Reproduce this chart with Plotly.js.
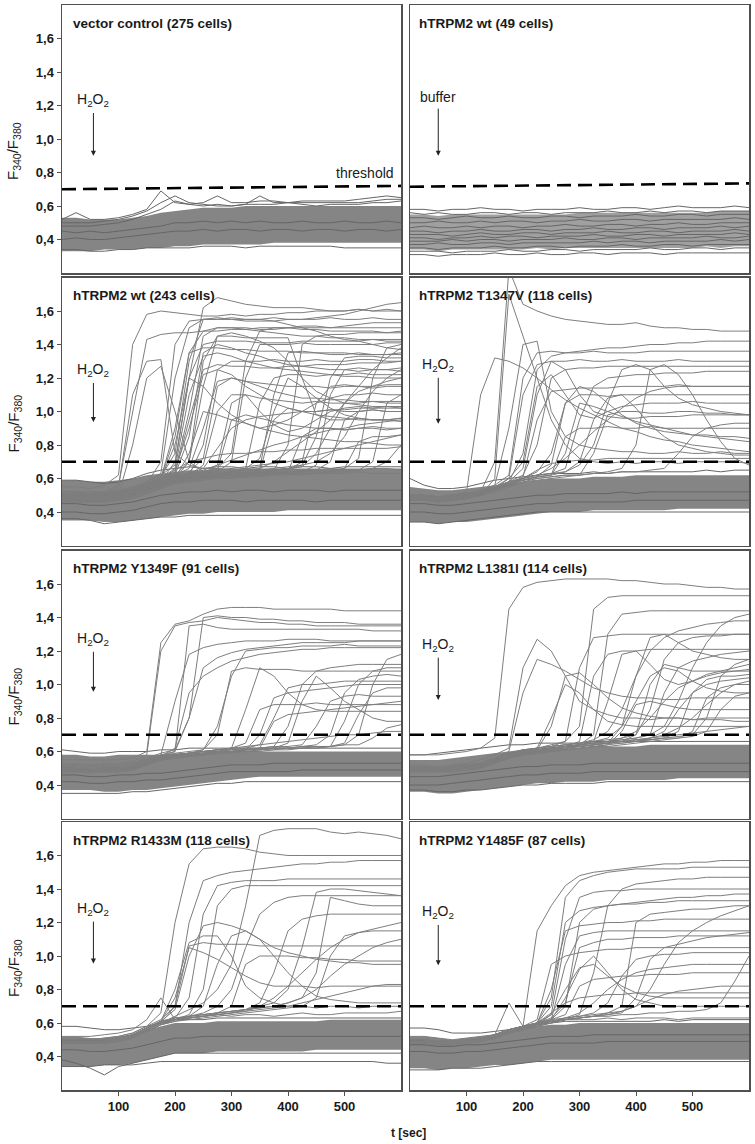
<!DOCTYPE html>
<html>
<head>
<meta charset="utf-8">
<script src="https://cdn.plot.ly/plotly-3.0.1.min.js"></script>
<style>html,body{margin:0;padding:0;background:#fff;}#chart{width:755px;height:1144px;}</style>
</head>
<body>
<div id="chart"></div>
<script>
// ---------- DATA ----------
const T = [0,25,50,75,100,125,150,175,200,225,250,275,300,325,350,375,400,425,450,475,500,525,550,575,600];
const xTicks = [100,200,300,400,500];
const yTicks = [0.4,0.6,0.8,1.0,1.2,1.4,1.6];
const panelTitles = ["vector control (275 cells)","hTRPM2 wt (49 cells)","hTRPM2 wt (243 cells)","hTRPM2 T1347V (118 cells)","hTRPM2 Y1349F (91 cells)","hTRPM2 L1381I (114 cells)","hTRPM2 R1433M (118 cells)","hTRPM2 Y1485F (87 cells)"];
const stimulusLabels = ["H<sub>2</sub>O<sub>2</sub>","buffer","H<sub>2</sub>O<sub>2</sub>","H<sub>2</sub>O<sub>2</sub>","H<sub>2</sub>O<sub>2</sub>","H<sub>2</sub>O<sub>2</sub>","H<sub>2</sub>O<sub>2</sub>","H<sub>2</sub>O<sub>2</sub>"];
const thresholdStart = [0.70,0.715,0.70,0.70,0.70,0.70,0.70,0.70];
const thresholdEnd   = [0.72,0.735,0.70,0.70,0.70,0.70,0.70,0.70];

// dense baseline bands (lower / upper envelope of the bulk of non-responding cells)
const bandLo1 = [0.33,0.33,0.33,0.34,0.34,0.34,0.35,0.35,0.36,0.36,0.37,0.37,0.37,0.37,0.37,0.38,0.38,0.38,0.38,0.38,0.38,0.38,0.38,0.38,0.38];
const bandHi1 = [0.53,0.53,0.52,0.52,0.52,0.53,0.54,0.56,0.57,0.58,0.59,0.59,0.59,0.60,0.60,0.60,0.60,0.60,0.60,0.60,0.60,0.60,0.60,0.60,0.60];
const bandLo2 = [0.34,0.34,0.33,0.34,0.34,0.34,0.34,0.34,0.34,0.35,0.34,0.35,0.35,0.35,0.35,0.35,0.35,0.35,0.35,0.35,0.35,0.36,0.35,0.36,0.36];
const bandHi2 = [0.55,0.55,0.54,0.55,0.55,0.55,0.55,0.55,0.55,0.55,0.55,0.55,0.56,0.56,0.56,0.56,0.56,0.56,0.56,0.56,0.56,0.56,0.57,0.57,0.57];
const bandLo3 = [0.35,0.35,0.35,0.34,0.34,0.35,0.36,0.37,0.38,0.39,0.39,0.40,0.40,0.40,0.40,0.40,0.41,0.41,0.41,0.41,0.41,0.41,0.41,0.41,0.41];
const bandHi3 = [0.59,0.59,0.58,0.58,0.59,0.60,0.62,0.63,0.64,0.65,0.65,0.66,0.66,0.66,0.66,0.66,0.66,0.66,0.66,0.66,0.66,0.66,0.66,0.66,0.66];
const bandLo4 = [0.34,0.34,0.33,0.34,0.34,0.35,0.36,0.37,0.38,0.39,0.40,0.40,0.40,0.41,0.41,0.41,0.41,0.41,0.41,0.42,0.42,0.42,0.42,0.42,0.42];
const bandHi4 = [0.55,0.54,0.53,0.53,0.54,0.55,0.56,0.57,0.58,0.59,0.60,0.60,0.60,0.61,0.61,0.61,0.62,0.62,0.62,0.62,0.62,0.62,0.62,0.62,0.62];
const bandLo5 = [0.37,0.37,0.37,0.36,0.36,0.37,0.37,0.38,0.39,0.40,0.41,0.42,0.43,0.44,0.45,0.45,0.45,0.45,0.45,0.45,0.45,0.45,0.45,0.45,0.45];
const bandHi5 = [0.58,0.58,0.57,0.57,0.58,0.58,0.58,0.58,0.59,0.59,0.59,0.60,0.60,0.60,0.60,0.60,0.60,0.60,0.60,0.60,0.60,0.60,0.60,0.60,0.60];
const bandLo6 = [0.36,0.36,0.35,0.35,0.36,0.37,0.38,0.39,0.40,0.41,0.41,0.42,0.42,0.42,0.43,0.43,0.43,0.43,0.43,0.44,0.44,0.44,0.44,0.44,0.44];
const bandHi6 = [0.55,0.55,0.55,0.56,0.57,0.58,0.59,0.60,0.61,0.61,0.62,0.62,0.62,0.63,0.63,0.63,0.63,0.64,0.64,0.64,0.64,0.64,0.64,0.64,0.64];
const bandLo7 = [0.34,0.34,0.34,0.35,0.35,0.36,0.38,0.40,0.42,0.42,0.42,0.43,0.43,0.43,0.43,0.43,0.43,0.43,0.44,0.44,0.44,0.44,0.44,0.44,0.44];
const bandHi7 = [0.52,0.52,0.51,0.51,0.52,0.53,0.56,0.58,0.60,0.60,0.60,0.61,0.61,0.61,0.61,0.61,0.61,0.61,0.61,0.62,0.62,0.62,0.62,0.62,0.62];
const bandLo8 = [0.33,0.33,0.32,0.33,0.33,0.34,0.35,0.35,0.36,0.37,0.38,0.38,0.38,0.38,0.38,0.38,0.38,0.38,0.38,0.38,0.38,0.38,0.38,0.38,0.38];
const bandHi8 = [0.52,0.52,0.51,0.50,0.51,0.52,0.53,0.55,0.57,0.58,0.59,0.59,0.60,0.60,0.60,0.60,0.60,0.60,0.60,0.60,0.60,0.60,0.60,0.60,0.60];

// individual non-responding cells
const base1 = [
 [0.52,0.56,0.52,0.52,0.53,0.55,0.58,0.69,0.62,0.61,0.62,0.66,0.62,0.62,0.63,0.63,0.62,0.63,0.63,0.63,0.63,0.64,0.65,0.66,0.65],
 [0.50,0.50,0.50,0.51,0.52,0.54,0.57,0.62,0.66,0.62,0.61,0.60,0.60,0.61,0.66,0.62,0.62,0.62,0.62,0.62,0.62,0.62,0.63,0.64,0.64],
 [0.48,0.48,0.48,0.49,0.50,0.52,0.55,0.58,0.63,0.61,0.60,0.61,0.60,0.61,0.61,0.61,0.62,0.61,0.60,0.61,0.61,0.61,0.62,0.62,0.63],
 [0.34,0.34,0.33,0.33,0.34,0.34,0.35,0.35,0.35,0.35,0.36,0.36,0.36,0.35,0.36,0.36,0.36,0.36,0.36,0.36,0.35,0.35,0.35,0.35,0.35],
 [0.45,0.44,0.45,0.44,0.45,0.46,0.47,0.48,0.50,0.50,0.51,0.50,0.51,0.50,0.51,0.50,0.50,0.51,0.50,0.50,0.51,0.50,0.50,0.51,0.50],
 [0.40,0.41,0.40,0.40,0.41,0.42,0.43,0.44,0.45,0.45,0.46,0.45,0.46,0.46,0.45,0.46,0.46,0.45,0.46,0.46,0.45,0.46,0.46,0.45,0.46]
];
const base2 = [
 [0.58,0.58,0.57,0.58,0.58,0.59,0.58,0.58,0.57,0.58,0.58,0.58,0.59,0.58,0.58,0.59,0.59,0.58,0.59,0.60,0.59,0.59,0.59,0.60,0.59],
 [0.56,0.55,0.56,0.55,0.55,0.56,0.56,0.55,0.56,0.56,0.55,0.56,0.56,0.56,0.57,0.56,0.56,0.57,0.56,0.57,0.57,0.56,0.57,0.57,0.57],
 [0.53,0.53,0.52,0.53,0.54,0.53,0.53,0.54,0.53,0.53,0.54,0.54,0.53,0.54,0.54,0.54,0.55,0.54,0.54,0.55,0.55,0.54,0.55,0.55,0.55],
 [0.50,0.50,0.51,0.50,0.50,0.51,0.50,0.51,0.51,0.50,0.51,0.51,0.52,0.51,0.51,0.52,0.52,0.51,0.52,0.52,0.52,0.52,0.52,0.53,0.52],
 [0.47,0.48,0.47,0.47,0.48,0.47,0.48,0.48,0.47,0.48,0.48,0.49,0.48,0.48,0.49,0.49,0.48,0.49,0.49,0.50,0.49,0.49,0.50,0.50,0.50],
 [0.45,0.45,0.44,0.45,0.45,0.46,0.45,0.45,0.46,0.46,0.45,0.46,0.46,0.47,0.46,0.46,0.47,0.47,0.46,0.47,0.47,0.47,0.48,0.47,0.48],
 [0.43,0.43,0.43,0.42,0.43,0.44,0.43,0.43,0.44,0.44,0.43,0.44,0.44,0.44,0.45,0.44,0.44,0.45,0.45,0.44,0.45,0.45,0.45,0.46,0.45],
 [0.41,0.41,0.40,0.41,0.41,0.42,0.41,0.42,0.42,0.41,0.42,0.42,0.42,0.43,0.42,0.42,0.43,0.43,0.42,0.43,0.43,0.43,0.43,0.44,0.43],
 [0.39,0.39,0.39,0.40,0.39,0.40,0.40,0.39,0.40,0.40,0.40,0.41,0.40,0.40,0.41,0.41,0.40,0.41,0.41,0.41,0.41,0.42,0.41,0.41,0.42],
 [0.37,0.37,0.38,0.37,0.37,0.38,0.38,0.37,0.38,0.38,0.38,0.38,0.38,0.39,0.38,0.39,0.39,0.38,0.39,0.39,0.39,0.39,0.40,0.39,0.40],
 [0.35,0.35,0.34,0.35,0.35,0.35,0.36,0.35,0.35,0.36,0.36,0.35,0.36,0.36,0.36,0.37,0.36,0.36,0.37,0.37,0.36,0.37,0.37,0.37,0.37],
 [0.33,0.33,0.33,0.32,0.33,0.33,0.33,0.34,0.33,0.33,0.34,0.34,0.33,0.34,0.34,0.34,0.34,0.35,0.34,0.34,0.35,0.35,0.34,0.35,0.35],
 [0.31,0.31,0.30,0.31,0.31,0.31,0.32,0.31,0.31,0.32,0.31,0.31,0.32,0.32,0.31,0.32,0.32,0.32,0.31,0.32,0.32,0.32,0.32,0.32,0.32]
];
const base3 = [
 [0.36,0.36,0.35,0.33,0.34,0.35,0.36,0.37,0.37,0.38,0.38,0.38,0.38,0.38,0.38,0.38,0.38,0.38,0.38,0.38,0.38,0.38,0.38,0.38,0.38],
 [0.59,0.59,0.58,0.57,0.58,0.60,0.63,0.65,0.66,0.67,0.66,0.67,0.67,0.66,0.67,0.67,0.66,0.67,0.67,0.66,0.67,0.67,0.67,0.67,0.67],
 [0.45,0.45,0.44,0.44,0.45,0.46,0.48,0.50,0.51,0.52,0.52,0.53,0.52,0.53,0.53,0.52,0.53,0.53,0.53,0.52,0.53,0.53,0.53,0.53,0.53],
 [0.40,0.40,0.39,0.39,0.40,0.41,0.43,0.45,0.46,0.46,0.47,0.47,0.47,0.46,0.47,0.47,0.47,0.47,0.46,0.47,0.47,0.47,0.47,0.47,0.47]
];
const base4 = [
 [0.60,0.56,0.54,0.54,0.55,0.57,0.59,0.60,0.61,0.62,0.63,0.63,0.63,0.64,0.63,0.64,0.64,0.64,0.64,0.64,0.64,0.65,0.64,0.65,0.65],
 [0.34,0.34,0.33,0.34,0.35,0.36,0.37,0.38,0.39,0.40,0.40,0.40,0.40,0.40,0.40,0.40,0.40,0.40,0.40,0.40,0.40,0.40,0.40,0.40,0.40],
 [0.45,0.45,0.44,0.44,0.45,0.46,0.47,0.48,0.49,0.50,0.50,0.51,0.51,0.51,0.51,0.52,0.51,0.52,0.52,0.52,0.52,0.52,0.52,0.52,0.52],
 [0.40,0.40,0.39,0.39,0.40,0.41,0.42,0.43,0.44,0.45,0.45,0.46,0.46,0.46,0.46,0.46,0.47,0.47,0.47,0.47,0.47,0.47,0.47,0.47,0.47]
];
const base5 = [
 [0.35,0.35,0.35,0.35,0.35,0.36,0.36,0.37,0.38,0.39,0.40,0.41,0.41,0.42,0.42,0.42,0.42,0.42,0.42,0.42,0.42,0.42,0.42,0.42,0.42],
 [0.61,0.60,0.59,0.59,0.60,0.60,0.60,0.61,0.61,0.62,0.62,0.62,0.62,0.62,0.62,0.62,0.62,0.62,0.62,0.62,0.62,0.62,0.62,0.62,0.62],
 [0.46,0.46,0.45,0.45,0.46,0.46,0.47,0.47,0.48,0.49,0.50,0.51,0.52,0.52,0.52,0.53,0.53,0.53,0.53,0.53,0.53,0.53,0.53,0.53,0.53],
 [0.42,0.42,0.41,0.41,0.42,0.42,0.43,0.43,0.44,0.45,0.46,0.47,0.48,0.48,0.48,0.48,0.48,0.49,0.49,0.49,0.49,0.49,0.49,0.49,0.49]
];
const base6 = [
 [0.37,0.37,0.36,0.36,0.37,0.37,0.38,0.39,0.40,0.40,0.41,0.41,0.41,0.41,0.42,0.42,0.42,0.42,0.42,0.42,0.42,0.42,0.42,0.42,0.42],
 [0.58,0.58,0.59,0.60,0.61,0.62,0.63,0.64,0.64,0.65,0.65,0.65,0.65,0.66,0.66,0.66,0.66,0.66,0.66,0.66,0.66,0.66,0.66,0.66,0.66],
 [0.45,0.45,0.45,0.46,0.47,0.48,0.49,0.50,0.51,0.51,0.52,0.52,0.52,0.53,0.53,0.53,0.53,0.53,0.53,0.53,0.53,0.53,0.53,0.53,0.53],
 [0.40,0.40,0.40,0.41,0.42,0.43,0.44,0.45,0.46,0.46,0.47,0.47,0.47,0.48,0.48,0.48,0.48,0.48,0.48,0.48,0.48,0.48,0.48,0.48,0.48]
];
const base7 = [
 [0.58,0.58,0.57,0.56,0.56,0.57,0.58,0.60,0.62,0.62,0.62,0.63,0.63,0.63,0.63,0.63,0.63,0.63,0.63,0.63,0.63,0.63,0.63,0.63,0.63],
 [0.38,0.36,0.33,0.29,0.34,0.36,0.38,0.40,0.42,0.42,0.42,0.42,0.42,0.42,0.42,0.42,0.42,0.42,0.42,0.42,0.42,0.42,0.42,0.42,0.42],
 [0.34,0.34,0.34,0.35,0.35,0.35,0.36,0.37,0.37,0.37,0.37,0.37,0.37,0.37,0.37,0.37,0.37,0.37,0.37,0.37,0.37,0.37,0.37,0.36,0.36],
 [0.44,0.44,0.43,0.43,0.44,0.45,0.47,0.49,0.51,0.51,0.52,0.52,0.52,0.52,0.52,0.52,0.52,0.52,0.52,0.52,0.52,0.52,0.52,0.52,0.52]
];
const base8 = [
 [0.57,0.57,0.56,0.54,0.54,0.54,0.55,0.56,0.58,0.59,0.60,0.61,0.61,0.61,0.61,0.61,0.61,0.61,0.62,0.61,0.62,0.62,0.62,0.62,0.62],
 [0.32,0.32,0.32,0.33,0.33,0.33,0.34,0.35,0.36,0.37,0.37,0.37,0.37,0.37,0.37,0.37,0.37,0.37,0.37,0.37,0.37,0.37,0.37,0.37,0.37],
 [0.43,0.43,0.42,0.42,0.43,0.43,0.44,0.45,0.46,0.47,0.48,0.48,0.48,0.48,0.49,0.49,0.49,0.49,0.49,0.49,0.49,0.49,0.49,0.49,0.49],
 [0.47,0.47,0.46,0.46,0.47,0.47,0.48,0.49,0.50,0.51,0.52,0.52,0.52,0.53,0.53,0.53,0.53,0.53,0.53,0.53,0.53,0.53,0.53,0.53,0.53]
];

// responding cells
const resp3 = [
 [0.55,0.55,0.54,0.56,0.62,1.40,1.58,1.60,1.59,1.58,1.57,1.57,1.58,1.57,1.58,1.58,1.59,1.59,1.60,1.60,1.60,1.61,1.60,1.61,1.60],
 [0.52,0.52,0.51,0.52,0.56,1.00,1.43,1.46,1.47,1.47,1.48,1.48,1.49,1.49,1.50,1.50,1.50,1.51,1.51,1.50,1.50,1.50,1.50,1.50,1.50],
 [0.50,0.50,0.50,0.51,0.55,1.10,1.30,1.31,0.75,0.68,0.66,0.66,0.65,0.66,0.65,0.65,0.66,0.65,0.65,0.66,0.65,0.65,0.66,0.66,0.65],
 [0.48,0.48,0.48,0.49,0.50,0.80,1.20,1.27,1.00,0.70,0.64,0.63,0.63,0.62,0.63,0.63,0.63,0.62,0.63,0.63,0.63,0.64,0.63,0.63,0.63],
 [0.50,0.50,0.50,0.50,0.52,0.54,0.58,0.62,0.68,1.20,1.62,1.68,1.66,1.64,1.63,1.62,1.62,1.62,1.61,1.60,1.60,1.61,1.60,1.60,1.60],
 [0.52,0.52,0.51,0.52,0.53,0.55,0.58,0.63,1.20,1.50,1.55,1.55,1.55,1.54,1.54,1.54,1.55,1.55,1.56,1.57,1.58,1.60,1.62,1.64,1.65],
 [0.50,0.50,0.49,0.50,0.50,0.52,0.55,0.60,0.90,1.35,1.48,1.50,1.50,1.50,1.49,1.49,1.50,1.50,1.50,1.50,1.51,1.52,1.53,1.53,1.53],
 [0.47,0.47,0.46,0.47,0.48,0.50,0.54,0.58,0.70,1.20,1.40,1.42,1.42,1.42,1.41,1.41,1.41,1.42,1.42,1.42,1.42,1.42,1.43,1.43,1.43],
 [0.48,0.48,0.48,0.48,0.50,0.52,0.55,0.60,0.66,1.10,1.33,1.35,1.33,1.30,1.28,1.26,1.25,1.24,1.23,1.22,1.21,1.21,1.20,1.20,1.20],
 [0.50,0.50,0.50,0.50,0.51,0.53,0.56,0.60,0.65,0.90,1.22,1.25,1.22,1.15,1.10,1.05,1.02,1.00,1.00,1.01,1.00,1.00,1.01,1.00,1.00],
 [0.50,0.50,0.50,0.51,0.52,0.53,0.56,0.60,0.62,0.70,1.30,1.45,1.45,1.44,1.44,1.44,1.44,1.20,0.98,0.95,0.95,0.96,0.95,0.95,0.96],
 [0.46,0.46,0.46,0.46,0.47,0.49,0.52,0.55,0.58,0.62,0.80,1.25,1.30,1.30,1.30,1.31,1.30,1.30,1.31,1.30,1.30,1.31,1.31,1.30,1.30],
 [0.49,0.49,0.48,0.49,0.50,0.51,0.54,0.58,0.60,0.62,0.68,1.00,1.10,1.10,1.08,1.07,1.06,1.05,1.06,1.05,1.05,1.05,1.06,1.05,1.05],
 [0.47,0.47,0.47,0.47,0.48,0.50,0.53,0.56,0.59,0.60,0.62,0.64,0.70,1.20,1.40,1.40,1.40,1.41,1.40,1.40,1.40,1.40,1.40,1.41,1.41],
 [0.51,0.51,0.50,0.51,0.52,0.53,0.56,0.59,0.61,0.62,0.63,0.65,0.95,0.98,0.96,0.94,0.92,0.91,0.90,0.90,0.89,0.90,0.90,0.89,0.90],
 [0.46,0.46,0.46,0.46,0.47,0.48,0.51,0.54,0.57,0.59,0.60,0.61,0.62,0.66,1.05,1.20,1.22,1.22,1.21,1.22,1.22,1.23,1.22,1.22,1.22],
 [0.49,0.49,0.49,0.49,0.50,0.51,0.54,0.57,0.59,0.60,0.61,0.62,0.62,0.63,0.64,0.95,1.02,1.00,0.98,0.97,0.96,0.95,0.95,0.95,0.96],
 [0.50,0.50,0.49,0.50,0.51,0.52,0.55,0.58,0.60,0.61,0.62,0.62,0.63,0.64,0.66,1.10,1.35,1.36,1.35,1.34,1.34,1.35,1.34,1.34,1.35],
 [0.48,0.48,0.48,0.48,0.49,0.50,0.53,0.56,0.58,0.60,0.61,0.61,0.62,0.63,0.63,0.65,0.80,1.40,1.45,1.46,1.46,1.47,1.47,1.47,1.48],
 [0.47,0.47,0.47,0.47,0.48,0.50,0.52,0.55,0.58,0.59,0.60,0.61,0.61,0.62,0.62,0.63,0.64,0.85,0.90,0.90,0.89,0.90,0.91,0.90,0.90],
 [0.50,0.50,0.50,0.50,0.51,0.52,0.55,0.58,0.60,0.61,0.62,0.62,0.63,0.63,0.64,0.64,0.65,0.70,1.05,1.15,1.16,1.15,1.15,1.16,1.16],
 [0.48,0.48,0.47,0.48,0.49,0.50,0.53,0.56,0.58,0.59,0.60,0.61,0.61,0.62,0.62,0.63,0.63,0.64,0.68,1.10,1.25,1.26,1.25,1.25,1.26],
 [0.49,0.49,0.49,0.49,0.50,0.51,0.54,0.57,0.59,0.60,0.61,0.61,0.62,0.62,0.63,0.63,0.64,0.64,0.65,0.70,0.95,1.00,1.01,1.00,1.00],
 [0.46,0.46,0.46,0.46,0.47,0.48,0.51,0.54,0.57,0.58,0.59,0.60,0.60,0.61,0.61,0.62,0.62,0.63,0.63,0.64,0.66,0.82,0.85,0.85,0.86],
 [0.50,0.50,0.50,0.50,0.51,0.52,0.55,0.58,0.60,0.61,0.62,0.62,0.63,0.63,0.64,0.64,0.64,0.65,0.65,0.65,0.66,0.72,1.20,1.38,1.40],
 [0.47,0.47,0.47,0.47,0.48,0.49,0.52,0.55,0.58,0.59,0.60,0.60,0.61,0.61,0.62,0.62,0.63,0.63,0.63,0.64,0.64,0.65,0.70,1.05,1.10],
 [0.49,0.49,0.49,0.49,0.50,0.51,0.54,0.57,0.59,0.60,0.60,0.61,0.62,0.62,0.63,0.63,0.63,0.64,0.64,0.64,0.65,0.65,0.66,0.70,0.80],
 [0.51,0.51,0.51,0.51,0.52,0.53,0.56,0.59,0.61,0.62,0.65,0.68,0.71,0.74,0.77,0.80,0.82,0.85,0.87,0.89,0.90,0.92,0.93,0.94,0.95],
 [0.48,0.48,0.48,0.48,0.49,0.51,0.54,0.57,0.60,0.75,1.00,0.98,0.95,0.93,0.90,0.88,0.86,0.85,0.84,0.83,0.82,0.82,0.81,0.80,0.80],
 [0.50,0.50,0.50,0.50,0.51,0.52,0.56,0.60,0.80,1.20,1.15,1.05,0.98,0.93,0.90,0.92,0.95,1.00,1.05,1.08,1.10,1.10,1.11,1.10,1.10],
 [0.52,0.52,0.52,0.52,0.53,0.54,0.57,0.61,0.75,1.30,1.55,1.56,1.55,1.55,1.55,1.54,1.52,1.50,1.48,1.45,1.43,1.42,1.40,1.38,1.37],
 [0.48,0.48,0.48,0.48,0.49,0.51,0.54,0.58,0.62,0.85,1.35,1.40,1.38,1.35,1.33,1.30,1.28,1.27,1.26,1.25,1.25,1.24,1.25,1.25,1.24],
 [0.49,0.49,0.49,0.49,0.50,0.51,0.54,0.57,0.60,0.64,0.72,1.15,1.20,1.18,1.17,1.16,1.15,1.15,1.15,1.14,1.15,1.15,1.14,1.15,1.15],
 [0.47,0.47,0.47,0.47,0.48,0.50,0.53,0.56,0.59,0.61,0.63,0.68,1.05,1.10,1.00,0.92,0.88,0.90,0.95,1.00,1.02,1.03,1.02,1.03,1.03],
 [0.50,0.50,0.50,0.50,0.51,0.52,0.55,0.58,0.60,0.62,0.63,0.64,0.64,0.65,0.66,0.70,0.76,0.82,0.88,0.95,1.05,1.15,1.25,1.32,1.38],
 [0.49,0.49,0.49,0.49,0.50,0.51,0.54,0.57,0.59,0.60,0.61,0.62,0.62,0.63,0.64,0.65,0.66,0.67,0.75,0.90,1.05,1.12,1.15,1.18,1.20],
 [0.51,0.51,0.50,0.51,0.52,0.54,0.57,0.70,1.40,1.54,1.55,1.55,1.56,1.55,1.55,1.56,1.55,1.55,1.55,1.56,1.55,1.55,1.56,1.55,1.55],
 [0.49,0.49,0.49,0.49,0.50,0.52,0.55,0.59,0.64,1.00,1.45,1.50,1.50,1.49,1.48,1.47,1.46,1.45,1.45,1.44,1.44,1.43,1.43,1.42,1.42],
 [0.50,0.50,0.50,0.50,0.51,0.53,0.56,0.60,0.65,0.70,0.72,0.74,0.75,0.75,0.76,0.76,0.77,0.77,0.78,0.78,0.78,0.78,0.78,0.78,0.79],
 [0.50,0.50,0.50,0.50,0.51,0.53,0.56,0.60,0.85,1.35,1.38,1.38,1.37,1.37,1.36,1.36,1.36,1.35,1.35,1.35,1.35,1.34,1.34,1.34,1.34],
 [0.49,0.49,0.49,0.49,0.50,0.52,0.55,0.59,0.63,0.95,1.25,1.28,1.27,1.27,1.26,1.26,1.27,1.27,1.28,1.28,1.28,1.29,1.29,1.29,1.30],
 [0.48,0.48,0.48,0.48,0.49,0.51,0.54,0.58,0.62,0.66,0.90,1.18,1.20,1.18,1.15,1.12,1.10,1.08,1.08,1.07,1.07,1.06,1.06,1.06,1.06],
 [0.50,0.50,0.50,0.50,0.51,0.52,0.55,0.59,0.61,0.63,0.64,0.66,0.75,1.30,1.48,1.50,1.50,1.49,1.49,1.48,1.48,1.48,1.48,1.47,1.47],
 [0.49,0.49,0.49,0.49,0.50,0.51,0.54,0.57,0.60,0.61,0.62,0.63,0.64,0.66,0.72,1.00,1.20,1.15,1.08,1.02,0.98,0.96,0.95,0.95,0.94],
 [0.47,0.47,0.47,0.47,0.48,0.50,0.53,0.56,0.59,0.60,0.61,0.62,0.63,0.63,0.64,0.65,0.66,0.68,0.85,1.20,1.32,1.33,1.33,1.32,1.32],
 [0.50,0.50,0.50,0.50,0.51,0.52,0.55,0.58,0.60,0.61,0.62,0.63,0.63,0.64,0.65,0.66,0.67,0.68,0.70,0.75,0.85,1.00,1.12,1.20,1.25],
 [0.48,0.48,0.48,0.48,0.49,0.51,0.54,0.57,0.60,0.70,1.15,1.45,1.47,1.45,1.42,1.38,1.30,1.20,1.12,1.08,1.05,1.04,1.03,1.03,1.02],
 [0.49,0.49,0.49,0.49,0.50,0.52,0.55,0.58,0.61,0.63,0.66,0.78,0.90,0.95,0.97,0.98,0.99,1.00,1.00,1.01,1.01,1.02,1.02,1.02,1.02],
 [0.51,0.51,0.51,0.51,0.52,0.53,0.56,0.60,0.62,0.63,0.64,0.65,0.66,0.67,0.68,0.69,0.70,0.72,0.74,0.76,0.78,0.80,0.82,0.84,0.86]
];
const resp4 = [
 [0.50,0.49,0.48,0.49,0.50,0.52,0.70,1.85,1.64,1.60,1.57,1.55,1.54,1.53,1.52,1.52,1.53,1.51,1.50,1.50,1.49,1.49,1.48,1.48,1.48],
 [0.48,0.48,0.47,0.48,0.49,0.50,0.60,1.70,1.45,1.20,0.95,0.80,0.72,0.70,0.69,0.70,0.69,0.70,0.70,0.69,0.70,0.70,0.70,0.70,0.69],
 [0.50,0.50,0.49,0.50,0.52,1.10,1.32,1.30,1.26,1.20,1.13,1.07,1.02,0.98,0.94,0.90,0.88,0.85,0.83,0.82,0.80,0.79,0.78,0.77,0.76],
 [0.49,0.49,0.48,0.49,0.50,0.52,0.56,0.90,1.40,1.42,1.00,0.85,0.80,0.78,0.77,0.76,0.76,0.75,0.75,0.76,0.75,0.75,0.76,0.75,0.75],
 [0.47,0.47,0.46,0.47,0.48,0.50,0.54,0.60,1.10,1.28,1.30,1.30,1.31,1.30,1.30,1.31,1.30,1.30,1.30,1.31,1.30,1.30,1.30,1.30,1.30],
 [0.48,0.48,0.47,0.48,0.49,0.51,0.54,0.58,0.75,1.25,1.33,1.35,1.36,1.37,1.38,1.38,1.39,1.40,1.40,1.41,1.41,1.42,1.42,1.42,1.42],
 [0.50,0.50,0.49,0.50,0.51,0.52,0.55,0.60,0.70,1.15,1.22,1.10,0.98,0.96,1.00,1.03,1.04,1.05,1.05,1.05,1.06,1.05,1.05,1.05,1.05],
 [0.49,0.49,0.48,0.49,0.50,0.51,0.54,0.58,0.62,0.80,1.20,1.25,1.26,1.26,1.27,1.27,1.27,1.27,1.27,1.27,1.27,1.27,1.27,1.27,1.27],
 [0.48,0.48,0.48,0.48,0.49,0.51,0.54,0.57,0.60,0.64,0.75,1.05,1.15,1.12,1.05,0.98,0.93,0.90,0.88,0.87,0.86,0.86,0.85,0.85,0.84],
 [0.47,0.47,0.46,0.47,0.48,0.50,0.53,0.56,0.59,0.61,0.68,1.05,1.10,1.10,1.09,1.10,1.10,1.10,1.10,1.10,1.10,1.10,1.10,1.10,1.10],
 [0.50,0.50,0.49,0.50,0.51,0.52,0.55,0.58,0.60,0.62,0.63,0.66,0.95,1.15,1.20,1.21,1.22,1.22,1.23,1.23,1.23,1.24,1.24,1.24,1.24],
 [0.49,0.49,0.48,0.49,0.50,0.51,0.54,0.57,0.59,0.61,0.62,0.64,0.70,0.95,1.08,1.10,1.02,0.92,0.85,0.80,0.78,0.76,0.75,0.74,0.74],
 [0.48,0.48,0.48,0.48,0.49,0.50,0.53,0.56,0.58,0.60,0.61,0.62,0.62,0.63,0.64,0.66,0.80,1.25,1.28,1.22,1.10,0.95,0.82,0.72,0.68],
 [0.47,0.47,0.47,0.47,0.48,0.50,0.52,0.55,0.58,0.59,0.60,0.61,0.62,0.75,0.98,1.00,1.00,0.99,0.99,1.00,1.00,0.99,0.99,0.98,0.98],
 [0.50,0.50,0.49,0.50,0.51,0.52,0.55,0.58,0.60,0.62,0.66,0.72,0.80,0.88,0.95,1.02,1.08,1.12,1.14,1.15,1.15,1.15,1.15,1.15,1.15],
 [0.49,0.49,0.49,0.49,0.50,0.51,0.54,0.57,0.59,0.61,0.62,0.85,0.90,0.90,0.91,0.90,0.90,0.91,0.90,0.90,0.90,0.90,0.90,0.90,0.90],
 [0.48,0.48,0.47,0.48,0.49,0.51,0.54,0.58,0.66,1.10,1.30,1.25,1.10,1.00,0.97,0.96,0.96,0.97,0.97,0.97,0.98,0.98,0.98,0.98,0.98],
 [0.49,0.49,0.49,0.49,0.50,0.51,0.54,0.57,0.59,0.60,0.61,0.62,0.62,0.63,0.63,0.64,0.64,0.65,0.66,0.75,0.85,0.90,0.92,0.93,0.93],
 [0.50,0.50,0.49,0.50,0.51,0.53,0.56,0.62,1.20,1.35,1.36,1.35,1.35,1.36,1.35,1.35,1.35,1.36,1.36,1.36,1.36,1.36,1.36,1.36,1.36],
 [0.47,0.47,0.46,0.47,0.48,0.50,0.53,0.57,0.61,0.95,1.12,1.13,1.14,1.14,1.14,1.15,1.15,1.15,1.15,1.16,1.15,1.15,1.15,1.15,1.15],
 [0.48,0.48,0.48,0.48,0.49,0.50,0.53,0.56,0.60,0.65,0.69,0.70,0.71,0.71,0.72,0.72,0.72,0.72,0.72,0.72,0.72,0.72,0.72,0.72,0.72],
 [0.50,0.50,0.49,0.50,0.51,0.52,0.55,0.58,0.60,0.62,0.63,0.64,0.68,0.80,1.05,1.25,1.28,1.25,1.15,1.08,1.04,1.02,1.00,0.99,0.98],
 [0.49,0.49,0.49,0.49,0.50,0.51,0.54,0.57,0.59,0.61,0.62,0.75,1.05,1.03,1.00,0.97,0.94,0.92,0.90,0.88,0.86,0.85,0.84,0.83,0.82]
];
const resp5 = [
 [0.55,0.55,0.55,0.55,0.55,0.56,0.60,1.25,1.36,1.38,1.42,1.45,1.46,1.46,1.46,1.45,1.45,1.45,1.45,1.45,1.44,1.44,1.44,1.44,1.44],
 [0.53,0.53,0.52,0.53,0.53,0.54,0.58,1.20,1.35,1.37,1.38,1.40,1.39,1.38,1.37,1.37,1.36,1.36,1.35,1.35,1.35,1.35,1.35,1.35,1.35],
 [0.52,0.52,0.51,0.52,0.52,0.53,0.55,0.58,0.90,1.18,1.22,1.24,1.25,1.26,1.26,1.26,1.27,1.27,1.27,1.26,1.26,1.26,1.26,1.26,1.26],
 [0.50,0.50,0.49,0.50,0.50,0.51,0.54,0.57,0.62,0.95,1.05,1.10,1.14,1.16,1.18,1.19,1.20,1.21,1.21,1.22,1.22,1.22,1.22,1.22,1.22],
 [0.51,0.51,0.50,0.51,0.51,0.52,0.55,0.58,0.60,1.35,1.36,1.34,1.33,1.33,1.33,1.33,1.33,1.33,1.33,1.33,1.33,1.33,1.32,1.32,1.32],
 [0.49,0.49,0.48,0.49,0.49,0.50,0.53,0.56,0.58,0.59,0.61,0.75,1.05,1.20,1.21,1.22,1.22,1.23,1.23,1.23,1.24,1.23,1.23,1.23,1.23],
 [0.50,0.50,0.49,0.50,0.50,0.51,0.54,0.57,0.60,0.80,1.10,1.16,1.19,1.21,1.22,1.23,1.24,1.25,1.25,1.25,1.25,1.26,1.26,1.26,1.26],
 [0.48,0.48,0.47,0.48,0.48,0.49,0.52,0.55,0.57,0.58,0.59,0.60,0.62,0.85,1.10,1.05,0.95,0.88,0.85,0.84,0.84,0.84,0.84,0.84,0.84],
 [0.49,0.49,0.48,0.49,0.49,0.50,0.53,0.56,0.58,0.59,0.60,0.61,0.62,0.65,0.85,0.88,0.88,0.88,0.89,0.88,0.88,0.88,0.88,0.88,0.88],
 [0.50,0.50,0.49,0.50,0.50,0.51,0.54,0.57,0.58,0.59,0.60,0.61,0.62,0.62,0.64,0.80,0.98,1.00,1.00,1.01,1.02,1.02,1.02,1.02,1.02],
 [0.48,0.48,0.48,0.48,0.48,0.49,0.52,0.55,0.57,0.58,0.59,0.60,0.60,0.61,0.62,0.63,0.75,1.00,1.08,1.10,1.11,1.12,1.12,1.12,1.12],
 [0.50,0.50,0.49,0.50,0.50,0.51,0.54,0.57,0.58,0.59,0.60,0.61,0.61,0.62,0.62,0.63,0.63,0.64,0.75,0.90,0.93,0.94,0.93,0.93,0.93],
 [0.49,0.49,0.48,0.49,0.49,0.50,0.53,0.56,0.57,0.58,0.59,0.60,0.60,0.61,0.61,0.62,0.62,0.63,0.64,0.70,0.95,1.03,1.05,1.06,1.05],
 [0.48,0.48,0.48,0.48,0.48,0.49,0.52,0.55,0.56,0.57,0.58,0.59,0.60,0.60,0.61,0.61,0.62,0.62,0.62,0.63,0.65,0.82,0.95,0.98,0.98],
 [0.50,0.50,0.49,0.50,0.50,0.51,0.53,0.56,0.58,0.59,0.60,0.60,0.61,0.61,0.62,0.62,0.62,0.63,0.63,0.63,0.64,0.64,0.68,0.74,0.76],
 [0.49,0.49,0.49,0.49,0.49,0.50,0.53,0.56,0.57,0.58,0.59,0.60,0.60,0.61,0.61,0.62,0.65,0.90,1.05,0.98,0.90,0.85,0.80,0.78,0.78],
 [0.48,0.48,0.48,0.48,0.48,0.49,0.52,0.55,0.56,0.57,0.58,0.59,0.59,0.60,0.60,0.61,0.61,0.62,0.62,0.63,0.78,1.00,1.08,1.10,1.10],
 [0.49,0.49,0.48,0.49,0.49,0.50,0.53,0.56,0.57,0.58,0.59,0.60,0.61,0.61,0.62,0.78,0.82,0.83,0.84,0.85,0.86,0.87,0.88,0.89,0.90],
 [0.50,0.50,0.49,0.50,0.50,0.51,0.54,0.57,0.58,0.59,0.60,0.61,0.62,0.63,0.64,0.65,0.66,0.67,0.68,0.69,0.70,0.70,0.71,0.72,0.72],
 [0.49,0.49,0.49,0.49,0.49,0.50,0.53,0.56,0.57,0.58,0.59,0.60,0.60,0.61,0.61,0.62,0.62,0.62,0.63,0.63,0.64,0.70,1.00,1.15,1.18],
 [0.48,0.48,0.48,0.48,0.48,0.49,0.52,0.55,0.56,0.57,0.58,0.59,0.60,0.61,0.70,0.92,0.95,0.96,0.97,0.98,0.99,1.00,1.00,1.00,1.00],
 [0.52,0.52,0.51,0.52,0.52,0.53,0.56,0.59,0.61,0.80,1.40,1.41,1.40,1.40,1.39,1.39,1.38,1.38,1.37,1.37,1.37,1.36,1.36,1.36,1.36],
 [0.50,0.50,0.49,0.50,0.50,0.51,0.54,0.57,0.59,0.60,0.61,0.70,1.08,1.10,1.09,1.09,1.09,1.08,1.08,1.08,1.08,1.08,1.08,1.08,1.08]
];
const resp6 = [
 [0.58,0.58,0.58,0.59,0.60,0.62,0.68,1.45,1.58,1.61,1.62,1.63,1.63,1.63,1.63,1.62,1.62,1.61,1.60,1.60,1.59,1.58,1.58,1.57,1.57],
 [0.52,0.52,0.51,0.52,0.53,0.55,0.58,0.62,1.10,1.27,1.20,1.05,0.90,0.85,0.82,0.80,0.80,0.79,0.80,0.80,0.79,0.80,0.80,0.80,0.80],
 [0.50,0.50,0.50,0.50,0.51,0.53,0.56,0.60,0.95,1.15,1.12,1.08,1.03,0.98,0.95,0.93,0.92,0.92,0.91,0.91,0.92,0.92,0.92,0.92,0.92],
 [0.50,0.50,0.50,0.50,0.51,0.52,0.55,0.58,0.60,0.62,0.64,0.66,0.75,1.45,1.52,1.53,1.53,1.53,1.53,1.53,1.53,1.53,1.53,1.53,1.53],
 [0.49,0.49,0.49,0.49,0.50,0.51,0.54,0.57,0.59,0.61,0.62,0.63,0.64,0.70,1.30,1.42,1.43,1.44,1.44,1.44,1.44,1.44,1.44,1.44,1.44],
 [0.51,0.51,0.50,0.51,0.52,0.53,0.56,0.59,0.61,0.62,0.63,0.66,1.10,1.28,1.29,1.30,1.30,1.30,1.30,1.30,1.30,1.30,1.30,1.30,1.30],
 [0.49,0.49,0.49,0.49,0.50,0.51,0.54,0.57,0.59,0.61,0.62,0.63,0.66,1.05,1.18,1.20,1.20,1.21,1.21,1.21,1.21,1.21,1.21,1.21,1.21],
 [0.50,0.50,0.50,0.50,0.51,0.52,0.55,0.58,0.60,0.62,0.63,0.64,0.65,0.67,0.72,0.85,1.05,1.20,1.28,1.32,1.34,1.36,1.37,1.38,1.38],
 [0.48,0.48,0.48,0.48,0.49,0.51,0.54,0.57,0.59,0.61,0.75,1.05,1.07,1.00,0.92,0.86,0.83,0.81,0.80,0.80,0.79,0.79,0.79,0.78,0.78],
 [0.49,0.49,0.49,0.49,0.50,0.51,0.54,0.57,0.59,0.61,0.62,0.63,0.64,0.66,0.90,1.18,1.20,1.12,1.03,1.00,1.02,1.06,1.08,1.10,1.12],
 [0.51,0.51,0.50,0.51,0.52,0.53,0.56,0.59,0.61,0.62,0.63,0.64,0.65,0.66,0.67,0.68,0.70,0.85,1.15,1.25,1.28,1.29,1.29,1.30,1.30],
 [0.50,0.50,0.50,0.50,0.51,0.52,0.55,0.58,0.60,0.61,0.62,0.63,0.64,0.65,0.66,0.67,0.68,0.70,0.95,1.10,1.14,1.16,1.18,1.19,1.20],
 [0.49,0.49,0.49,0.49,0.50,0.51,0.54,0.57,0.59,0.60,0.61,0.62,0.63,0.64,0.65,0.66,0.66,0.67,0.68,0.72,0.95,1.03,1.05,1.05,1.06],
 [0.48,0.48,0.48,0.48,0.49,0.50,0.53,0.56,0.58,0.59,0.60,0.61,0.62,0.63,0.63,0.64,0.65,0.66,0.67,0.68,0.72,0.92,0.98,1.00,1.00],
 [0.50,0.50,0.50,0.50,0.51,0.52,0.55,0.58,0.60,0.61,0.62,0.63,0.63,0.64,0.65,0.65,0.66,0.67,0.68,0.68,0.69,0.72,0.85,0.93,0.95],
 [0.49,0.49,0.49,0.49,0.50,0.51,0.54,0.57,0.59,0.60,0.61,0.62,0.63,0.64,0.65,0.66,0.70,1.00,1.12,1.10,1.08,1.08,1.08,1.08,1.08],
 [0.48,0.48,0.48,0.48,0.49,0.50,0.53,0.56,0.58,0.59,0.60,0.61,0.62,0.63,0.64,0.72,0.88,0.90,0.88,0.86,0.85,0.85,0.85,0.85,0.85],
 [0.50,0.50,0.50,0.50,0.51,0.52,0.55,0.58,0.60,0.62,0.80,1.00,0.95,0.85,0.78,0.76,0.75,0.75,0.75,0.75,0.75,0.75,0.75,0.75,0.75],
 [0.51,0.51,0.50,0.51,0.52,0.53,0.56,0.59,0.60,0.61,0.62,0.63,0.64,0.65,0.66,0.66,0.67,0.68,0.69,0.70,0.71,0.72,0.73,0.74,0.75],
 [0.50,0.50,0.50,0.50,0.51,0.52,0.55,0.58,0.60,0.61,0.62,0.63,0.64,0.65,0.65,0.66,0.67,0.67,0.68,0.69,0.70,0.80,1.05,1.12,1.15],
 [0.49,0.49,0.49,0.49,0.50,0.51,0.54,0.57,0.59,0.60,0.61,0.62,0.63,0.64,0.65,0.75,1.05,1.28,1.30,1.25,1.20,1.18,1.16,1.15,1.15],
 [0.50,0.50,0.50,0.50,0.51,0.52,0.55,0.58,0.60,0.61,0.62,0.63,0.64,0.65,0.66,0.67,0.68,0.70,0.75,0.90,1.10,1.25,1.35,1.40,1.42],
 [0.50,0.50,0.50,0.50,0.51,0.52,0.55,0.58,0.60,0.61,0.62,0.63,0.64,0.65,0.66,0.68,0.72,0.80,0.90,0.98,1.02,1.05,1.07,1.08,1.09],
 [0.49,0.49,0.49,0.49,0.50,0.51,0.54,0.57,0.59,0.60,0.61,0.62,0.63,0.64,0.65,0.66,0.67,0.68,0.72,0.85,0.95,1.00,1.02,1.03,1.04],
 [0.51,0.51,0.50,0.51,0.52,0.53,0.56,0.59,0.61,0.62,0.63,0.64,0.65,0.66,0.68,0.75,0.90,1.05,1.10,1.08,1.02,0.98,0.96,0.95,0.95],
 [0.48,0.48,0.48,0.48,0.49,0.50,0.53,0.56,0.58,0.59,0.60,0.61,0.62,0.63,0.64,0.65,0.66,0.68,0.70,0.74,0.80,0.88,0.95,1.00,1.02]
];
const resp7 = [
 [0.50,0.50,0.50,0.51,0.52,0.54,0.58,0.66,1.20,1.55,1.64,1.65,1.65,1.64,1.62,1.61,1.60,1.60,1.60,1.60,1.60,1.60,1.60,1.60,1.60],
 [0.49,0.49,0.48,0.49,0.50,0.52,0.56,0.60,0.64,0.68,0.72,0.80,0.95,1.30,1.72,1.75,1.76,1.76,1.76,1.74,1.73,1.74,1.73,1.72,1.70],
 [0.51,0.51,0.50,0.51,0.52,0.54,0.58,0.62,0.70,1.20,1.45,1.48,1.50,1.51,1.52,1.53,1.54,1.55,1.55,1.56,1.56,1.57,1.57,1.57,1.57],
 [0.49,0.49,0.49,0.49,0.50,0.52,0.56,0.60,0.63,0.75,1.25,1.42,1.44,1.45,1.45,1.45,1.46,1.46,1.46,1.46,1.46,1.46,1.46,1.46,1.46],
 [0.48,0.48,0.48,0.48,0.49,0.51,0.55,0.59,0.62,0.65,0.80,1.30,1.40,1.42,1.42,1.42,1.42,1.42,1.42,1.42,1.42,1.42,1.42,1.42,1.42],
 [0.50,0.50,0.50,0.50,0.51,0.53,0.57,0.61,0.80,1.08,1.12,1.12,1.00,0.82,0.75,0.72,0.70,0.70,0.69,0.70,0.70,0.69,0.70,0.70,0.70],
 [0.49,0.49,0.49,0.49,0.50,0.52,0.56,0.60,0.70,1.06,1.08,1.07,1.07,1.07,1.06,1.06,1.06,1.06,1.06,1.06,1.06,1.06,1.06,1.06,1.06],
 [0.50,0.50,0.50,0.50,0.51,0.53,0.57,0.61,0.75,1.05,1.02,0.98,0.93,0.88,0.84,0.82,0.82,0.82,0.81,0.82,0.82,0.82,0.82,0.82,0.82],
 [0.48,0.48,0.48,0.48,0.49,0.51,0.55,0.59,0.62,0.64,0.66,0.70,0.80,1.05,1.25,1.32,1.35,1.36,1.36,1.36,1.36,1.36,1.36,1.36,1.36],
 [0.49,0.49,0.49,0.49,0.50,0.52,0.56,0.60,0.62,0.64,0.65,0.66,0.67,0.68,0.70,0.72,0.80,1.05,1.38,1.40,1.40,1.39,1.38,1.37,1.36],
 [0.50,0.50,0.50,0.50,0.51,0.53,0.57,0.61,0.63,0.64,0.65,0.66,0.67,0.68,0.69,0.70,0.72,0.75,0.90,1.35,1.33,1.31,1.30,1.30,1.30],
 [0.48,0.48,0.48,0.48,0.49,0.51,0.55,0.59,0.61,0.63,0.64,0.65,0.66,0.67,0.70,0.75,0.82,0.90,0.98,1.05,1.10,1.14,1.16,1.18,1.20],
 [0.49,0.49,0.49,0.49,0.50,0.52,0.56,0.60,0.62,0.64,0.70,0.95,1.12,1.15,1.10,1.00,0.90,0.82,0.76,0.74,0.73,0.72,0.72,0.72,0.72],
 [0.50,0.50,0.50,0.50,0.51,0.53,0.57,0.61,0.63,0.64,0.65,0.66,0.67,0.68,0.69,0.70,0.72,0.75,0.80,0.88,0.95,1.00,1.05,1.08,1.10],
 [0.49,0.49,0.49,0.49,0.50,0.52,0.56,0.60,0.62,0.63,0.64,0.66,0.70,0.95,1.00,1.00,1.00,0.99,0.99,0.98,0.98,0.97,0.97,0.97,0.97],
 [0.48,0.48,0.48,0.48,0.49,0.51,0.55,0.59,0.61,0.62,0.63,0.64,0.65,0.66,0.67,0.68,0.69,0.70,0.75,1.00,1.12,1.14,1.15,1.15,1.15],
 [0.50,0.50,0.50,0.50,0.51,0.53,0.57,0.61,0.68,1.00,1.18,1.20,1.18,1.15,1.10,1.05,1.02,1.00,0.98,0.97,0.96,0.96,0.95,0.95,0.95],
 [0.49,0.49,0.49,0.49,0.50,0.52,0.56,0.60,0.62,0.63,0.64,0.65,0.66,0.68,0.72,0.90,1.15,1.22,1.24,1.25,1.25,1.25,1.25,1.25,1.25],
 [0.50,0.50,0.50,0.50,0.51,0.53,0.57,0.61,0.62,0.63,0.64,0.65,0.66,0.67,0.68,0.69,0.70,0.72,0.74,0.76,0.78,0.80,0.82,0.83,0.83],
 [0.52,0.52,0.52,0.53,0.54,0.56,0.62,0.75,0.62,0.63,0.64,0.65,0.64,0.65,0.65,0.64,0.65,0.66,0.65,0.65,0.66,0.66,0.66,0.66,0.67]
];
const resp8 = [
 [0.50,0.50,0.49,0.49,0.50,0.51,0.52,0.55,0.58,1.15,1.30,1.42,1.48,1.50,1.51,1.52,1.53,1.54,1.55,1.55,1.56,1.56,1.57,1.57,1.57],
 [0.49,0.49,0.48,0.48,0.49,0.50,0.52,0.55,0.57,0.60,0.75,1.35,1.45,1.48,1.50,1.51,1.52,1.52,1.52,1.52,1.53,1.53,1.53,1.53,1.53],
 [0.48,0.48,0.47,0.47,0.48,0.49,0.51,0.54,0.56,0.59,0.65,1.10,1.35,1.38,1.39,1.39,1.40,1.40,1.40,1.40,1.40,1.40,1.40,1.40,1.40],
 [0.50,0.50,0.49,0.49,0.50,0.51,0.53,0.56,0.58,0.60,0.62,0.70,1.20,1.28,1.30,1.31,1.32,1.33,1.34,1.35,1.35,1.36,1.36,1.37,1.37],
 [0.49,0.49,0.48,0.48,0.49,0.50,0.52,0.55,0.57,0.60,0.80,1.15,1.18,1.19,1.20,1.20,1.21,1.21,1.22,1.22,1.22,1.22,1.22,1.22,1.22],
 [0.48,0.48,0.47,0.47,0.48,0.49,0.51,0.54,0.56,0.58,0.62,0.95,1.12,1.14,1.15,1.15,1.15,1.15,1.15,1.15,1.15,1.15,1.15,1.15,1.15],
 [0.50,0.50,0.49,0.49,0.50,0.51,0.53,0.56,0.58,0.60,0.63,0.72,1.05,1.08,1.10,1.10,1.11,1.11,1.11,1.12,1.12,1.12,1.12,1.12,1.12],
 [0.49,0.49,0.48,0.48,0.49,0.50,0.52,0.55,0.57,0.60,0.65,0.80,0.93,0.95,0.88,0.82,0.78,0.76,0.75,0.75,0.75,0.75,0.75,0.75,0.75],
 [0.48,0.48,0.47,0.47,0.48,0.49,0.51,0.54,0.56,0.58,0.60,0.62,0.63,0.64,0.66,0.70,1.20,1.25,1.26,1.27,1.28,1.28,1.29,1.30,1.30],
 [0.49,0.49,0.48,0.48,0.49,0.50,0.52,0.55,0.57,0.59,0.61,0.63,0.64,0.66,0.72,0.88,0.98,1.00,1.01,1.01,1.02,1.02,1.02,1.02,1.02],
 [0.50,0.50,0.49,0.49,0.50,0.51,0.53,0.56,0.58,0.60,0.62,0.63,0.64,0.65,0.66,0.67,0.70,0.80,0.95,1.08,1.15,1.20,1.24,1.27,1.30],
 [0.49,0.49,0.48,0.48,0.49,0.50,0.52,0.55,0.57,0.59,0.61,0.62,0.63,0.64,0.64,0.65,0.65,0.66,0.66,0.67,0.67,0.68,0.72,0.85,1.00],
 [0.52,0.52,0.51,0.50,0.51,0.52,0.53,0.72,0.58,0.60,0.61,0.62,0.62,0.62,0.63,0.62,0.63,0.63,0.63,0.62,0.63,0.63,0.63,0.63,0.63],
 [0.48,0.48,0.47,0.47,0.48,0.49,0.51,0.54,0.56,0.60,0.66,0.72,0.75,0.76,0.77,0.77,0.78,0.78,0.78,0.78,0.78,0.78,0.78,0.78,0.78],
 [0.50,0.50,0.49,0.49,0.50,0.51,0.53,0.56,0.58,0.60,0.62,0.65,0.82,0.86,0.87,0.88,0.88,0.89,0.89,0.89,0.90,0.90,0.90,0.90,0.90],
 [0.49,0.49,0.48,0.48,0.49,0.50,0.52,0.55,0.57,0.60,0.70,1.20,1.27,1.29,1.30,1.31,1.31,1.32,1.32,1.33,1.33,1.33,1.33,1.33,1.33],
 [0.48,0.48,0.47,0.47,0.48,0.49,0.51,0.54,0.56,0.58,0.60,0.62,0.65,0.90,1.30,1.40,1.43,1.44,1.45,1.46,1.46,1.47,1.47,1.47,1.47],
 [0.50,0.50,0.49,0.49,0.50,0.51,0.53,0.56,0.58,0.60,0.61,0.62,0.63,0.64,0.65,0.66,0.75,0.98,1.05,1.07,1.09,1.11,1.12,1.13,1.14],
 [0.49,0.49,0.48,0.48,0.49,0.50,0.52,0.55,0.57,0.59,0.61,0.62,0.63,0.64,0.65,0.67,0.70,0.74,0.77,0.79,0.80,0.81,0.82,0.82,0.82],
 [0.48,0.48,0.47,0.47,0.48,0.49,0.51,0.54,0.56,0.58,0.62,0.75,0.92,1.00,0.90,0.80,0.74,0.72,0.70,0.70,0.70,0.70,0.70,0.70,0.70],
 [0.50,0.50,0.49,0.49,0.50,0.51,0.53,0.56,0.58,0.62,0.95,1.00,1.02,1.03,1.04,1.04,1.05,1.05,1.05,1.05,1.05,1.05,1.05,1.05,1.05],
 [0.49,0.49,0.48,0.48,0.49,0.50,0.52,0.55,0.57,0.59,0.61,0.63,0.66,0.72,0.80,0.86,0.90,0.92,0.93,0.94,0.95,0.95,0.95,0.95,0.95]
];

// ---------- BUILD ----------
const bandLo = [bandLo1,bandLo2,bandLo3,bandLo4,bandLo5,bandLo6,bandLo7,bandLo8];
const bandHi = [bandHi1,bandHi2,bandHi3,bandHi4,bandHi5,bandHi6,bandHi7,bandHi8];
const bases  = [base1,base2,base3,base4,base5,base6,base7,base8];
const resps  = [[],[],resp3,resp4,resp5,resp6,resp7,resp8];

const W = 755, H = 1144;
const colPx = [[62,401],[410,749]];
const rowPx = [[5,273],[277.5,545.5],[550.5,818.5],[822,1090]];
const FONT = 'Liberation Sans, Arial, Helvetica, sans-serif';

const data = [];
const layout = {
  width: W, height: H,
  margin: {l:0, r:0, t:0, b:0},
  paper_bgcolor: '#ffffff', plot_bgcolor: '#ffffff',
  showlegend: false,
  separators: ', ',
  font: {family: FONT, color: '#1a1a1a', size: 13},
  annotations: []
};

const labelY   = [1.23,1.25,1.245,1.276,1.27,1.235,1.28,1.26];
const arrowTip = [0.90,0.90,0.937,0.927,0.957,0.907,0.955,0.945];

for (let p = 0; p < 8; p++) {
  const col = p % 2, row = Math.floor(p / 2);
  const id = p === 0 ? '' : String(p + 1);
  const xa = 'x' + id, ya = 'y' + id;
  const bottom = row === 3, left = col === 0;

  layout['xaxis' + id] = {
    domain: [colPx[col][0] / W, colPx[col][1] / W],
    anchor: ya, range: [T[0], T[T.length - 1]],
    showline: true, mirror: true, linecolor: '#505050', linewidth: 1.5,
    showgrid: false, zeroline: false,
    tickmode: 'array', tickvals: xTicks,
    ticks: bottom ? 'outside' : '', ticklen: 4, tickcolor: '#505050',
    showticklabels: bottom,
    tickfont: {family: FONT, size: 13, weight: 'bold', color: '#1a1a1a'}
  };
  layout['yaxis' + id] = {
    domain: [1 - rowPx[row][1] / H, 1 - rowPx[row][0] / H],
    anchor: xa, range: [0.2, 1.8],
    showline: true, mirror: true, linecolor: '#505050', linewidth: 1.5,
    showgrid: false, zeroline: false,
    tickmode: 'array', tickvals: yTicks, tickformat: '.1f',
    ticks: left ? 'outside' : '', ticklen: 4, tickcolor: '#505050',
    showticklabels: left,
    tickfont: {family: FONT, size: 13, weight: 'bold', color: '#1a1a1a'}
  };

  const common = {xaxis: xa, yaxis: ya, mode: 'lines', hoverinfo: 'skip', showlegend: false};
  // band of non-responding cells
  data.push(Object.assign({x: T, y: bandLo[p], line: {width: 0, color: '#858585'}}, common));
  data.push(Object.assign({x: T, y: bandHi[p], fill: 'tonexty',
    fillcolor: p === 1 ? '#a0a0a0' : '#858585', line: {width: 0, color: '#858585'}}, common));
  bases[p].forEach(v => data.push(Object.assign({x: T, y: v, line: {width: 1, color: '#666666'}}, common)));
  resps[p].forEach(v => data.push(Object.assign({x: T, y: v, line: {width: 1, color: '#7e7e7e'}}, common)));
  // threshold
  data.push(Object.assign({x: [T[0], T[T.length - 1]], y: [thresholdStart[p], thresholdEnd[p]],
    line: {width: 2.6, color: '#000', dash: '14px,7px'}}, common));

  // panel title
  layout.annotations.push({xref: xa, yref: ya, x: left ? 16 : 12, y: 1.69, xanchor: 'left', yanchor: 'middle',
    text: '<b>' + panelTitles[p] + '</b>', showarrow: false, font: {family: FONT, size: 13.5, color: '#1a1a1a'}});
  // stimulus label + arrow
  const sx = left ? 55.6 : 50;
  layout.annotations.push({xref: xa, yref: ya, x: sx, y: arrowTip[p], ax: sx, ay: labelY[p], axref: xa, ayref: ya,
    text: stimulusLabels[p], showarrow: true, arrowhead: 2, arrowsize: 1, arrowwidth: 1, arrowcolor: '#222',
    startstandoff: 2, font: {family: FONT, size: 14, color: '#1a1a1a'}});
  if (left) {
    const cy = (rowPx[row][0] + 146) / H;
    layout.annotations.push({xref: 'paper', yref: 'paper', x: 14 / W, y: 1 - cy, textangle: -90,
      text: 'F<sub>340</sub>/F<sub>380</sub>', showarrow: false, xanchor: 'center', yanchor: 'middle',
      font: {family: FONT, size: 15, color: '#1a1a1a'}});
  }
}
layout.annotations.push({xref: 'x', yref: 'y', x: 592, y: 0.80, xanchor: 'right', yanchor: 'middle',
  text: 'threshold', showarrow: false, font: {family: FONT, size: 14, color: '#1a1a1a'}});
layout.annotations.push({xref: 'paper', yref: 'paper', x: 408 / W, y: 1 - 1133 / H, xanchor: 'center', yanchor: 'middle',
  text: '<b>t [sec]</b>', showarrow: false, font: {family: FONT, size: 12, color: '#1a1a1a'}});

Plotly.newPlot('chart', data, layout, {staticPlot: true, displayModeBar: false});
</script>
</body>
</html>
